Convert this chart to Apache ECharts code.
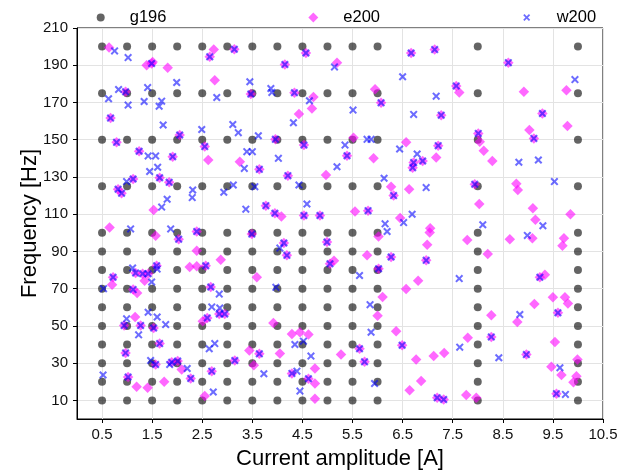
<!DOCTYPE html>
<html><head><meta charset="utf-8">
<script src="https://cdn.jsdelivr.net/npm/echarts@6/dist/echarts.min.js"></script>
<style>html,body{margin:0;padding:0;background:#fff}#c{width:632px;height:472px}</style>
</head><body><div id="c"></div>
<script>
const xTicks = [0.5,1.5,2.5,3.5,4.5,5.5,6.5,7.5,8.5,9.5,10.5];
const yTicks = [10,30,50,70,90,110,130,150,170,190,210];
const gridX = [0.5,1,1.5,2,2.5,3,3.5,4,4.5,5,5.5,6,8,10];
const gridY = [10,20,30,40,50,60,70,80,90,100,125,150,175,200];

// points measured by both e200 and w200 (overlapping)
const shared = [
 [1.49,190.9],[2.65,194.5],[3.14,198.6],[0.97,175.7],[3.47,174.5],[0.67,161.6],[2.05,152.5],[0.79,148.6],[1.24,143.8],[1.91,140.9],[2.55,146.3],[3.64,134.1],[1.65,129.6],[1.84,127.1],[1.12,128.9],[0.82,123.4],[0.89,121.3],[3.77,114.6],[3.95,110.5],
 [2.03,96.6],[2.39,100.7],[3.49,99.3],[2.57,82.3],[1.17,78.4],[1.31,78.0],[1.42,78.0],[1.59,82.3],[0.72,76.1],[1.12,69.5],[2.67,70.9],[2.84,56.4],[2.95,56.4],[2.6,54.3],[0.94,50.2],[1.27,50.2],[1.53,48.9],[1.65,40.5],[0.97,35.5],[3.64,35.0],[3.15,31.4],[1.57,29.3],[1.89,30.5],[2.01,31.1],[2.27,21.8],[2.69,25.7],[1.02,22.5],
 [4.57,196.6],[4.15,190.4],[6.67,196.6],[7.14,198.4],[7.57,178.9],[4.34,175.2],[6.07,169.8],[7.27,163.2],[3.96,150.2],[4.53,147.1],[7.21,146.8],[6.72,137.7],[6.9,138.6],[6.7,135.0],[5.39,141.4],[4.21,130.7],[6.32,120.0],[4.53,109.3],[4.85,109.3],[5.81,111.9],
 [4.13,94.5],[4.19,87.9],[4.99,95.0],[5.05,83.4],[6.27,87.0],[6.97,85.2],[6.02,80.7],[5.64,37.7],[5.74,30.7],[6.49,39.6],[4.29,24.5],[4.62,21.6],[7.19,11.4],[7.32,10.5],
 [8.61,191.4],[9.29,164.1],[9.12,150.7],[8.01,153.4],[7.94,126.1],
 [9.24,76.1],[9.6,57.0],[8.27,44.1],[8.97,34.6],[9.57,13.6]
];
const eOnly = [
 [0.64,199.5],[1.39,190.0],[1.51,191.8],[1.81,188.6],[2.73,198.4],[2.75,182.0],[2.62,139.1],[3.25,138.2],[1.53,112.3],
 [0.65,102.9],[1.57,98.4],[2.39,90.4],[2.87,85.5],[2.25,81.6],[2.39,82.0],[1.35,74.3],[0.7,72.1],[1.2,67.7],[3.59,76.1],[2.51,52.5],[1.16,54.8],[3.44,36.8],[3.53,28.9],[2.09,26.6],[1.19,17.3],[1.41,16.8],[1.74,20.0],[2.55,12.3],
 [5.19,191.4],[7.63,175.4],[4.72,173.0],[4.69,166.8],[4.43,163.8],[5.95,177.1],[5.52,151.1],[6.57,148.6],[7.17,140.4],[5.92,140.0],[4.97,131.0],[6.27,124.8],[6.63,123.4],[4.08,108.8],[5.55,111.4],[6.45,107.9],
 [7.05,102.5],[7.04,100.2],[6.99,93.6],[7.79,96.2],[6.02,98.0],[5.13,85.0],[5.79,87.9],[6.81,74.3],[6.57,69.8],[6.1,65.5],[6.0,55.5],[3.92,51.6],[6.37,47.1],[4.29,45.7],[4.45,46.6],[4.62,45.4],[4.05,35.2],[5.27,34.6],[6.77,32.0],[7.12,33.8],[7.33,35.5],[7.8,43.6],[4.75,27.1],[4.75,19.1],[4.75,10.9],[6.87,20.4],[6.64,15.5],[7.77,12.9],
 [8.92,175.7],[9.77,176.6],[9.79,157.3],[9.03,155.2],[8.04,148.9],[8.12,144.1],[8.29,138.6],[8.77,126.3],[8.8,123.0],[8.03,115.5],[9.1,113.2],[9.85,110.0],
 [9.15,107.0],[9.09,97.1],[8.64,96.6],[9.72,97.1],[9.69,93.0],[8.2,88.6],[9.34,77.5],[9.5,65.4],[9.74,65.4],[9.8,62.0],[9.13,61.8],[8.27,55.7],[8.79,52.1],[9.54,41.4],[9.47,28.0],[9.67,23.6],[9.99,32.0],[9.97,23.0],[9.91,19.8],[7.97,11.4]
];
const wOnly = [
 [0.75,197.7],[1.02,194.1],[1.99,180.7],[3.45,181.1],[0.83,177.0],[0.63,172.0],[1.41,178.0],[1.34,170.5],[1.02,168.6],[1.69,170.7],[1.64,168.0],[2.79,172.7],[3.87,177.5],[3.89,175.4],[1.72,157.9],[2.49,155.5],[3.11,158.2],[3.22,153.8],[3.62,152.1],[1.42,141.3],[1.57,141.3],[3.39,143.6],[3.5,143.6],[4.02,140.0],[3.34,134.6],[1.61,135.2],[1.45,132.9],[0.99,127.5],[2.31,123.0],[2.3,118.9],[2.93,121.8],[3.12,125.7],[3.55,124.8],[1.8,118.0],[1.69,113.8],[3.37,112.7],
 [1.07,102.1],[1.87,102.1],[1.11,81.1],[1.6,80.5],[1.49,73.6],[0.53,70.0],[2.84,67.1],[2.69,60.2],[2.85,59.6],[1.42,57.3],[1.6,54.8],[1.77,50.7],[0.99,53.8],[1.23,45.2],[2.64,37.7],[2.75,40.5],[1.47,31.4],[1.85,29.3],[2.2,27.1],[0.52,23.6],[2.72,14.5],[3.73,24.3],
 [5.14,189.1],[6.5,183.8],[7.17,173.4],[4.64,170.9],[4.32,159.1],[5.51,165.9],[6.72,163.6],[5.35,147.1],[5.79,150.2],[5.87,150.2],[6.44,145.0],[6.79,142.3],[5.19,135.5],[6.13,129.3],[4.43,125.7],[6.97,124.3],[4.59,115.5],[6.69,110.0],
 [6.15,104.8],[6.19,100.7],[6.52,105.5],[4.05,91.8],[5.64,77.1],[3.97,70.7],[7.63,75.4],[5.85,61.4],[5.87,46.6],[4.35,40.0],[4.52,41.8],[4.67,33.8],[7.64,38.6],[4.39,25.7],[4.45,15.0],[5.94,19.1],
 [9.94,182.3],[8.82,137.9],[9.21,139.1],[9.53,127.5],
 [8.1,104.3],[9.3,103.8],[8.99,98.6],[8.84,56.1],[8.42,32.9],[9.64,27.5],[9.75,13.2]
];

const g196 = [];
gridX.forEach(function (x) { gridY.forEach(function (y) { g196.push([x, y]); }); });
const e200 = shared.concat(eOnly);
const w200 = shared.concat(wOnly);

const FONT = "'Liberation Sans', Arial, sans-serif";
const XPATH = 'path://M0,1.8L1.8,0L5,3.2L8.2,0L10,1.8L6.8,5L10,8.2L8.2,10L5,6.8L1.8,10L0,8.2L3.2,5Z';

function legendFor(name, left, w, pad) {
  return {
    data: [name], left: left, top: 9, padding: 0, orient: 'horizontal',
    itemWidth: w, itemHeight: w, selectedMode: false,
    textStyle: { fontSize: 16.5, color: '#000', fontFamily: FONT, padding: [0, 0, 0, pad] }
  };
}

const chart = echarts.init(document.getElementById('c'), null, { renderer: 'canvas' });
chart.setOption({
  animation: false,
  backgroundColor: '#fff',
  textStyle: { fontFamily: FONT },
  grid: { left: 77, right: 29, top: 28, bottom: 53, show: true, borderColor: '#000', borderWidth: 1,
          containLabel: false, outerBoundsMode: 'none' },
  legend: [
    legendFor('g196', 96.7, 8, 20),
    legendFor('e200', 308.3, 10, 20),
    legendFor('w200', 523.2, 7, 21.5)
  ],
  xAxis: {
    type: 'value', min: 0, max: 10.5,
    name: 'Current amplitude [A]', nameLocation: 'middle', nameGap: 29, nameMoveOverlap: false,
    nameTextStyle: { fontSize: 22, color: '#000', fontFamily: FONT },
    axisLine: { show: true, onZero: false, lineStyle: { color: '#000', width: 1 } },
    axisTick: { show: true, customValues: xTicks, length: 4, lineStyle: { color: '#000' } },
    axisLabel: { customValues: xTicks, fontSize: 15, color: '#111', margin: 8, fontFamily: FONT },
    splitLine: { show: true, lineStyle: { color: '#e3e3e3', width: 1 } }
  },
  yAxis: {
    type: 'value', min: 0, max: 210,
    name: 'Frequency [Hz]', nameLocation: 'middle', nameGap: 36, nameMoveOverlap: false,
    nameTextStyle: { fontSize: 22, color: '#000', fontFamily: FONT },
    axisLine: { show: true, onZero: false, lineStyle: { color: '#000', width: 1 } },
    axisTick: { show: true, customValues: yTicks, length: 4, lineStyle: { color: '#000' } },
    axisLabel: { customValues: yTicks, fontSize: 15, color: '#111', margin: 9, fontFamily: FONT },
    splitLine: { show: true, lineStyle: { color: '#e3e3e3', width: 1 } }
  },
  series: [
    { name: 'g196', type: 'scatter', data: g196, symbol: 'circle', symbolSize: 8,
      itemStyle: { color: 'rgba(0,0,0,0.76)' } },
    { name: 'e200', type: 'scatter', data: e200, symbol: 'diamond', symbolSize: 10.5,
      itemStyle: { color: 'rgba(255,0,255,0.74)' } },
    { name: 'w200', type: 'scatter', data: w200, symbol: XPATH, symbolSize: 8,
      itemStyle: { color: 'rgba(0,0,255,0.72)' } }
  ]
});
</script>
</body></html>
